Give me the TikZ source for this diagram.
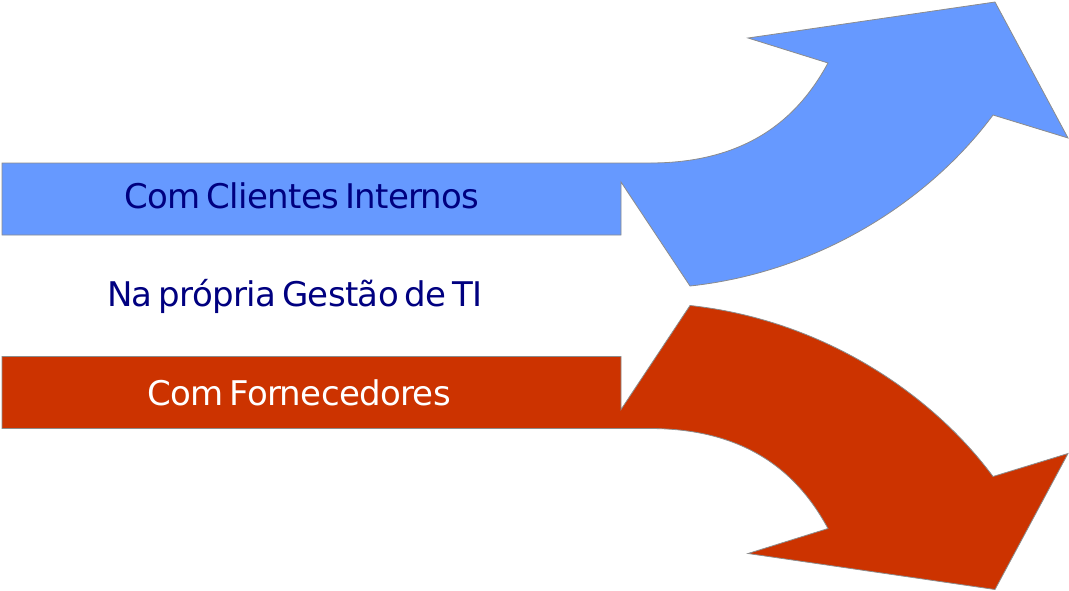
\documentclass[tikz,border=0pt]{standalone}
\usepackage{fontspec}
\usepackage{tikz}
\newfontfamily\labelfont{DejaVu Sans}[WordSpace=0.6, LetterSpace=-2]
\definecolor{clientblue}{HTML}{6699FF}
\definecolor{supplierred}{HTML}{CC3300}
\definecolor{labelnavy}{HTML}{000080}
\definecolor{edgegray}{HTML}{8C8C8C}
\tikzset{
  band/.style      = {draw=edgegray, line width=0.6pt, line join=miter},
  bandlabel/.style = {anchor=base, inner sep=0pt,
                      font=\labelfont\fontsize{25.5}{30}\selectfont},
}

\begin{document}
\begin{tikzpicture}[x=0.75pt, y=-0.75pt]

  \useasboundingbox (0,0) rectangle (1069,590);

  % upper band, bending up
  \draw[band, fill=clientblue] (2,163) -- (650,163)
        .. controls (760,163) and (805,105) .. (828,63)
        -- (748,38) -- (995,2) -- (1068,138) -- (993,115)
        .. controls (930,200) and (820,272) .. (690,286)
        -- (621,182) -- (621,235) -- (2,235) -- cycle;

  % lower band, bending down
  \draw[band, fill=supplierred] (2,428.5) -- (650,428.5)
        .. controls (760,428.5) and (805,486.5) .. (828,528.5)
        -- (748,553.5) -- (995,589.5) -- (1068,453.5) -- (993,476.5)
        .. controls (930,391.5) and (820,319.5) .. (690,305.5)
        -- (621,409.5) -- (621,356.5) -- (2,356.5) -- cycle;

  \node[bandlabel, text=labelnavy] (clients)   at (302,208) {Com Clientes Internos};
  \node[bandlabel, text=labelnavy] (itmgmt)    at (295,306.5) {Na própria Gestão de TI};
  \node[bandlabel, text=white]     (suppliers) at (299,405) {Com Fornecedores};

\end{tikzpicture}
\end{document}
